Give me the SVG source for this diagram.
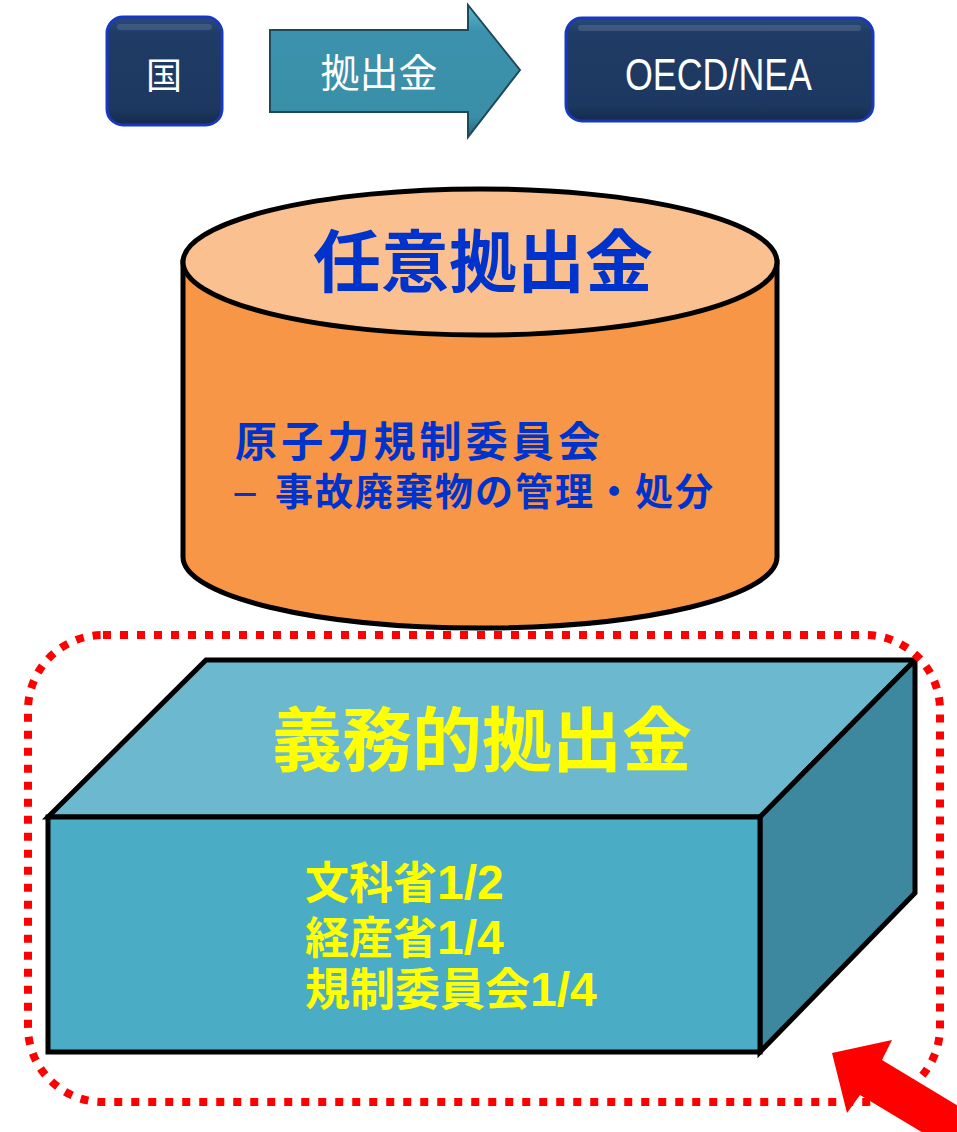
<svg xmlns="http://www.w3.org/2000/svg" width="957" height="1132" viewBox="0 0 957 1132">
<defs>
<style>
.jp{font-family:"Liberation Sans","Noto Sans CJK JP",sans-serif;}
.wt{fill:#ffffff;}
.blue{fill:#0033cc;font-weight:bold;}
.yel{fill:#ffff00;font-weight:bold;}
.num{font-size:48px;}
.edge{stroke:#000;stroke-width:5;stroke-linejoin:miter;}
</style>
<linearGradient id="navy" x1="0" y1="0" x2="0" y2="1">
<stop offset="0" stop-color="#2a4a78"/>
<stop offset="0.15" stop-color="#1f3c66"/>
<stop offset="0.85" stop-color="#1d3860"/>
<stop offset="1" stop-color="#142a4c"/>
</linearGradient>
<linearGradient id="teal" x1="0" y1="0" x2="0" y2="1">
<stop offset="0" stop-color="#5bb6cf"/>
<stop offset="0.2" stop-color="#3c92ac"/>
<stop offset="0.85" stop-color="#3a8ea8"/>
<stop offset="1" stop-color="#26667a"/>
</linearGradient>
</defs>

<g id="node-kuni">
<rect x="107" y="17" width="115" height="108" rx="16" fill="url(#navy)" stroke="#1838c0" stroke-width="3"/>
<rect x="117" y="24" width="95" height="6" rx="3" fill="#ffffff" opacity="0.12"/>
<text class="jp wt" x="164" y="89" font-size="36" text-anchor="middle">国</text>
</g>

<g id="node-arrow">
<polygon points="270,30 468,30 468,5 520,70 468,137 468,112 270,112" fill="url(#teal)" stroke="#1d4a5a" stroke-width="2"/>
<text class="jp wt" x="379" y="87" font-size="39" text-anchor="middle">拠出金</text>
</g>

<g id="node-oecd">
<rect x="566" y="18" width="307" height="103" rx="16" fill="url(#navy)" stroke="#1838c0" stroke-width="3"/>
<rect x="578" y="25" width="283" height="6" rx="3" fill="#ffffff" opacity="0.12"/>
<text class="wt" x="625" y="90" font-size="44" font-family="'Liberation Sans',sans-serif" textLength="187" lengthAdjust="spacingAndGlyphs">OECD/NEA</text>
</g>

<g id="node-voluntary">
<path class="edge" d="M183,262 L183,557 A297,71 0 0 0 777,557 L777,262 Z" fill="#f79646"/>
<ellipse class="edge" cx="480" cy="262" rx="297" ry="73" fill="#fac090"/>
<text class="jp blue" x="483" y="287" font-size="68" text-anchor="middle">任意拠出金</text>
<text class="jp blue" x="235" y="457" font-size="42" textLength="365" lengthAdjust="spacing">原子力規制委員会</text>
<text class="jp blue" y="505" font-size="38"><tspan x="230" font-size="30">－ </tspan><tspan x="275" textLength="438" lengthAdjust="spacing">事故廃棄物の管理・処分</tspan></text>
</g>

<g id="node-mandatory">
<polygon class="edge" points="48,817 206,660 915,660 760,817" fill="#6cb9cf"/>
<polygon class="edge" points="760,817 915,660 915,893 760,1052" fill="#3d889f"/>
<rect class="edge" x="48" y="817" width="712" height="235" fill="#4bacc6"/>
<text class="jp yel" x="482" y="766" font-size="70" text-anchor="middle">義務的拠出金</text>
<text class="jp yel" x="305" y="899" font-size="44">文科省<tspan class="num">1/2</tspan></text>
<text class="jp yel" x="305" y="954" font-size="44">経産省<tspan class="num">1/4</tspan></text>
<text class="jp yel" x="305" y="1006" font-size="45">規制委員会<tspan class="num">1/4</tspan></text>
</g>

<g id="connectors">
<rect x="28" y="635" width="912" height="467" rx="75" fill="none" stroke="#ff0000" stroke-width="8" stroke-dasharray="8 9"/>
<polygon points="832,1053 892,1040 882,1060 985,1122 955,1152 860,1095 847,1113" fill="#ff0000"/>
</g>
</svg>
